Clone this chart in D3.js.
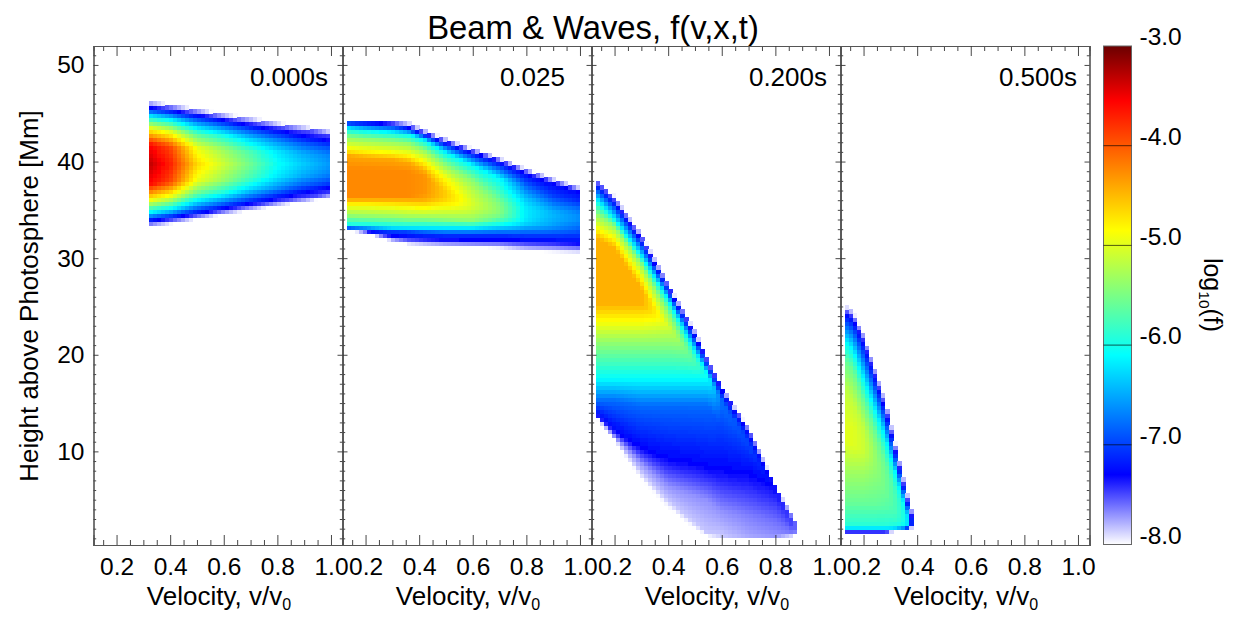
<!DOCTYPE html>
<html>
<head>
<meta charset="utf-8">
<script src="https://cdn.jsdelivr.net/npm/d3@7/dist/d3.min.js"></script>
<style>
html,body{margin:0;padding:0;background:#fff}
svg{display:block}
text{font-family:"Liberation Sans",Arial,sans-serif;fill:#000}
</style>
</head>
<body>
<svg id="chart" width="1246" height="623"></svg>
<script>
// ---------- values ----------
const chartTitle = "Beam & Waves, f(v,x,t)";
const panelLabels = ["0.000s", "0.025", "0.200s", "0.500s"];
const velocityTicks = [0.2, 0.4, 0.6, 0.8, 1.0];
const heightTicks = [10, 20, 30, 40, 50];
const colorTicks = [-3, -4, -5, -6, -7, -8];
const colorStops = [-8, -7.3, -6.1, -4.85, -3.55, -3];
const colorStopValues = ["#ffffff", "#0000ff", "#00ffff", "#ffff00", "#ff0000", "#6b0000"];

// Each panel: velocity columns; for each, the height (Mm) and log10 f of the colour bands met top to bottom.
const p1Velocity = [0.32, 0.4, 0.5, 0.6, 0.7, 0.8, 0.9, 1.0];
const p1Height = [
  [46.3,45.6,44.7,43.4,41.8,39.8,37.8,36.2,34.9,34.0,33.3],
  [46.0,45.3,44.5,43.2,41.6,39.8,38.0,36.4,35.1,34.3,33.6],
  [45.5,44.9,44.1,42.9,41.5,39.8,38.1,36.7,35.5,34.7,34.1],
  [45.0,44.5,43.8,42.7,41.4,39.8,38.2,36.9,35.8,35.1,34.6],
  [44.6,44.05,43.4,42.4,41.2,39.8,38.4,37.2,36.2,35.55,35.0],
  [44.1,43.65,43.1,42.2,41.1,39.8,38.5,37.4,36.5,35.95,35.5],
  [43.7,43.25,42.75,41.9,40.95,39.8,38.65,37.7,36.85,36.35,35.9],
  [43.2,42.85,42.4,41.7,40.8,39.8,38.8,37.9,37.2,36.75,36.4]
];
const p1LogF = [
  [-8,-7.2,-6.05,-4.8,-3.55,-3.3,-3.55,-4.8,-6.05,-7.2,-8],
  [-8,-7.2,-6.2,-5.0,-3.9,-3.7,-3.9,-5.0,-6.2,-7.2,-8],
  [-8,-7.3,-6.6,-5.65,-4.95,-4.65,-4.95,-5.65,-6.6,-7.3,-8],
  [-8,-7.4,-6.8,-5.95,-5.35,-5.1,-5.35,-5.95,-6.8,-7.4,-8],
  [-8,-7.45,-6.95,-6.3,-5.75,-5.55,-5.75,-6.3,-6.95,-7.45,-8],
  [-8,-7.5,-7.15,-6.6,-6.2,-6.05,-6.2,-6.6,-7.15,-7.5,-8],
  [-8,-7.5,-7.3,-6.85,-6.5,-6.35,-6.5,-6.85,-7.3,-7.5,-8],
  [-8,-7.5,-7.4,-7.0,-6.7,-6.6,-6.7,-7.0,-7.4,-7.5,-8]
];

const p2Velocity = [0.13, 0.2, 0.3, 0.36, 0.42, 0.5, 0.6, 0.7, 0.8, 0.9, 1.0];
const p2Height = [
  [44.3,44.2,43.5,42.6,41.4,40.7,39.3,36.5,36.2,35.6,34.5,33.4,33.2,33.1,32.9],
  [44.3,44.1,43.3,42.4,41.2,40.5,39.3,36.5,36.2,35.6,34.4,33.4,33.1,32.9,32.7],
  [44.3,43.9,43.1,42.2,41.0,40.3,39.2,36.5,36.2,35.5,34.3,33.3,32.9,32.4,31.8],
  [44.1,43.6,42.9,42.0,40.8,40.0,39.0,36.5,36.2,35.4,34.2,33.3,32.8,32.2,31.5],
  [43.3,42.9,42.3,41.3,40.1,39.2,38.6,36.7,36.1,35.3,34.2,33.3,32.7,32.1,31.4],
  [42.4,42.0,41.0,39.7,38.3,37.3,36.9,36.5,36.1,35.5,34.1,33.3,32.6,32.0,31.3],
  [41.4,41.0,39.7,38.1,37.1,36.3,36.0,35.6,35.2,34.7,34.0,33.3,32.6,32.0,31.2],
  [40.4,40.0,38.3,36.5,36.0,35.6,35.2,34.9,34.7,34.4,34.1,33.5,32.6,32.0,31.1],
  [39.3,38.8,37.6,36.3,35.6,35.2,34.9,34.7,34.4,34.1,33.7,33.3,32.5,31.9,30.8],
  [38.3,37.8,36.5,35.5,35.0,34.7,34.4,34.2,33.9,33.5,33.1,32.8,32.4,31.8,30.7],
  [37.4,36.9,36.0,35.2,34.8,34.5,34.2,34.0,33.7,33.3,32.9,32.6,32.2,31.6,30.6]
];
const p2LogF = [
  [-8,-7.3,-6.1,-5.4,-4.85,-4.4,-4.25,-4.25,-4.4,-4.85,-5.4,-6.1,-7,-7.3,-8],
  [-8,-7.3,-6.1,-5.4,-4.85,-4.4,-4.25,-4.25,-4.4,-4.85,-5.4,-6.1,-7,-7.3,-8],
  [-8,-7.3,-6.1,-5.4,-4.85,-4.4,-4.25,-4.25,-4.4,-4.85,-5.4,-6.1,-7,-7.3,-8],
  [-8,-7.3,-6.1,-5.4,-4.85,-4.4,-4.25,-4.25,-4.4,-4.85,-5.4,-6.1,-7,-7.3,-8],
  [-8,-7.3,-6.1,-5.4,-4.85,-4.45,-4.3,-4.3,-4.45,-4.85,-5.4,-6.1,-7,-7.3,-8],
  [-8,-7.3,-6.1,-5.4,-4.85,-4.65,-4.6,-4.6,-4.65,-4.85,-5.4,-6.1,-7,-7.3,-8],
  [-8,-7.3,-6.1,-5.4,-5.2,-5.1,-5.05,-5.05,-5.1,-5.2,-5.4,-6.1,-7,-7.3,-8],
  [-8,-7.3,-6.1,-5.7,-5.55,-5.47,-5.45,-5.45,-5.47,-5.55,-5.7,-6.1,-7,-7.3,-8],
  [-8,-7.3,-6.85,-6.4,-6.25,-6.2,-6.2,-6.2,-6.2,-6.22,-6.3,-6.5,-7,-7.3,-8],
  [-8,-7.3,-7,-6.65,-6.5,-6.45,-6.45,-6.45,-6.5,-6.55,-6.7,-6.85,-7.05,-7.3,-8],
  [-8,-7.3,-7.1,-6.8,-6.7,-6.65,-6.65,-6.65,-6.7,-6.8,-6.9,-7,-7.15,-7.3,-8]
];

const p3Velocity = [0.13, 0.2, 0.3, 0.4, 0.5, 0.55, 0.6, 0.7, 0.8, 0.87, 0.89];
const p3Height = [
  [38.3,37.8,36.2,34.7,33.2,32.2,25.4,23.6,21.3,17.6,15.3,14.0,13.8,13.7,13.6],
  [36.5,35.9,34.1,33.4,32.1,31.1,25.4,23.6,21.3,17.6,15.3,12.2,11.6,11.4,11.2],
  [32.5,31.9,30.3,29.5,28.1,26.9,25.4,23.6,21.3,17.6,14.8,10.4,8.9,7.9,7.2],
  [27.3,26.9,25.8,24.5,23.1,23.1,23.1,23.1,21.3,17.6,14.8,9.3,6.5,5.0,4.3],
  [22.5,22.0,20.5,19.7,19.6,19.5,19.4,19.3,19.2,17.6,14.8,8.8,5.5,2.7,2.1],
  [19.4,19.0,18.0,17.9,17.85,17.8,17.75,17.7,17.65,17.6,14.8,8.4,5.0,1.5,1.3],
  [16.7,16.4,15.5,15.4,15.3,15.2,15.1,15.0,14.9,14.8,12.4,8.2,3.9,1.35,1.15],
  [12.4,12.0,11.0,10.9,10.8,10.7,10.6,10.5,10.4,10.3,10.2,7.8,3.4,1.35,1.15],
  [6.5,6.2,5.95,5.9,5.85,5.8,5.75,5.7,5.65,5.6,5.5,5.4,3.0,1.35,1.15],
  [3.0,2.7,2.45,2.4,2.35,2.3,2.25,2.2,2.15,2.1,2.05,2.0,1.7,1.5,1.3],
  [2.3,2.27,2.24,2.21,2.18,2.15,2.12,2.09,2.06,2.03,2.0,1.97,1.94,1.91,1.9]
];
const p3LogF = [
  [-8,-7.3,-6.1,-5.4,-4.85,-4.45,-4.45,-4.85,-5.4,-6.1,-6.8,-7.3,-7.7,-7.85,-8],
  [-8,-7.3,-6.1,-5.4,-4.85,-4.45,-4.45,-4.85,-5.4,-6.1,-6.8,-7.3,-7.7,-7.85,-8],
  [-8,-7.3,-6.1,-5.4,-4.85,-4.45,-4.45,-4.85,-5.4,-6.1,-6.8,-7.3,-7.7,-7.85,-8],
  [-8,-7.3,-6.1,-5.4,-5.05,-5.05,-5.05,-5.05,-5.4,-6.1,-6.8,-7.3,-7.7,-7.85,-8],
  [-8,-7.3,-6.1,-5.75,-5.75,-5.75,-5.75,-5.75,-5.75,-6.1,-6.8,-7.3,-7.7,-7.85,-8],
  [-8,-7.3,-6.15,-6.1,-6.1,-6.1,-6.1,-6.1,-6.1,-6.1,-6.8,-7.3,-7.7,-7.85,-8],
  [-8,-7.3,-6.8,-6.8,-6.8,-6.8,-6.8,-6.8,-6.8,-6.8,-7,-7.3,-7.7,-7.85,-8],
  [-8,-7.3,-7,-7,-7,-7,-7,-7,-7,-7.02,-7.05,-7.3,-7.65,-7.75,-8],
  [-8,-7.35,-7.35,-7.35,-7.35,-7.35,-7.35,-7.35,-7.35,-7.36,-7.38,-7.4,-7.6,-7.7,-8],
  [-8,-7.5,-7.5,-7.5,-7.5,-7.5,-7.5,-7.5,-7.5,-7.5,-7.5,-7.5,-7.6,-7.65,-8],
  [-8,-8,-8,-8,-8,-8,-8,-8,-8,-8,-8,-8,-8,-8,-8]
];

const p4Velocity = [0.13, 0.16, 0.2, 0.24, 0.28, 0.32, 0.36, 0.39];
const p4Height = [
  [25.2,24.4,21.5,19.5,16.4,12.7,11.2,8.1,4.7,2.5,2.2,1.85,1.65,1.5],
  [24.6,23.8,20.5,18.7,15.3,12.7,10.7,8.1,4.7,2.5,2.2,1.85,1.65,1.5],
  [22.3,21.3,17.5,15.4,12.5,11.2,10.1,8.1,4.7,2.5,2.2,1.85,1.65,1.5],
  [18.9,18.0,14.5,12.5,11.2,10.1,9.1,7.9,4.7,2.5,2.2,1.85,1.65,1.5],
  [15.5,14.4,11.5,9.1,8.1,7.0,6.0,5.3,4.5,2.5,2.2,1.85,1.65,1.5],
  [10.6,9.7,7.7,6.0,5.2,4.5,3.9,3.4,2.9,2.5,2.2,2.1,2.0,1.9],
  [5.9,5.1,3.7,3.3,3.0,2.9,2.8,2.7,2.6,2.5,2.2,2.1,2.0,1.9],
  [3.0,2.8,2.75,2.7,2.65,2.6,2.58,2.55,2.52,2.5,2.45,2.4,2.35,2.3]
];
const p4LogF = [
  [-8,-7.3,-6.1,-5.6,-5.15,-5,-5,-5.3,-5.6,-5.9,-6.1,-7.3,-7.6,-8],
  [-8,-7.3,-6.1,-5.6,-5.15,-5,-5,-5.3,-5.6,-5.9,-6.1,-7.3,-7.6,-8],
  [-8,-7.3,-6.1,-5.6,-5.15,-5.1,-5.1,-5.3,-5.6,-5.9,-6.1,-7.3,-7.6,-8],
  [-8,-7.3,-6.1,-5.6,-5.45,-5.35,-5.35,-5.4,-5.6,-5.9,-6.1,-7.3,-7.6,-8],
  [-8,-7.3,-6.1,-5.6,-5.55,-5.55,-5.55,-5.6,-5.65,-5.9,-6.1,-7.3,-7.6,-8],
  [-8,-7.3,-6.1,-5.8,-5.75,-5.75,-5.75,-5.8,-5.85,-5.95,-6.1,-6.8,-7.6,-8],
  [-8,-7.3,-6.1,-6.05,-6.05,-6.05,-6.05,-6.05,-6.05,-6.1,-6.5,-7.3,-7.6,-8],
  [-8,-7.9,-7.9,-7.9,-7.9,-7.9,-7.9,-7.9,-7.9,-7.9,-7.9,-7.9,-7.9,-8]
];

const panelVelocities = [p1Velocity, p2Velocity, p3Velocity, p4Velocity];
const panelHeights = [p1Height, p2Height, p3Height, p4Height];
const panelLogF = [p1LogF, p2LogF, p3LogF, p4LogF];

// ---------- layout ----------
const panelLeft = [93.5, 342.5, 591.5, 840.5], panelWidth = 249;
const panelLabelRight = [328, 565, 827, 1077];
const plotTop = 46, plotBottom = 545;
const cellV = 0.015, cellH = 0.414;
const velocityDomain = [0.114, 1.043], heightDomain = [0.31, 51.96];

const color = d3.scaleLinear().domain(colorStops).range(colorStopValues).clamp(true);
const yScale = d3.scaleLinear().domain(heightDomain).range([plotBottom, plotTop]);
const svg = d3.select("#chart");

const defs = svg.append("defs");
defs.append("filter").attr("id", "soft").attr("filterUnits", "userSpaceOnUse")
  .attr("x", 0).attr("y", 0).attr("width", 1246).attr("height", 623)
  .append("feGaussianBlur").attr("stdDeviation", 0.55);

// look up log f at one raster cell from the knots
function sample(vs, hs, fs, v, h) {
  if (v < vs[0] || v > vs[vs.length - 1]) return null;
  let i = d3.bisectRight(vs, v) - 1;
  if (i >= vs.length - 1) i = vs.length - 2;
  const t = (v - vs[i]) / (vs[i + 1] - vs[i]);
  const n = hs[i].length;
  const hk = d3.range(n).map(k => hs[i][k] + t * (hs[i + 1][k] - hs[i][k]));
  const fk = d3.range(n).map(k => fs[i][k] + t * (fs[i + 1][k] - fs[i][k]));
  if (h > hk[0] || h < hk[n - 1]) return null;
  for (let k = 0; k < n - 1; k++) {
    if (h <= hk[k] && h >= hk[k + 1]) {
      const d = hk[k] - hk[k + 1];
      return d <= 0 ? fk[k] : fk[k] + (hk[k] - h) / d * (fk[k + 1] - fk[k]);
    }
  }
  return null;
}

const rasterLayer = svg.append("g").attr("filter", "url(#soft)");

panelLabels.forEach((label, p) => {
  const x = d3.scaleLinear().domain(velocityDomain).range([panelLeft[p], panelLeft[p] + panelWidth]);
  const vs = panelVelocities[p], hs = panelHeights[p], fs = panelLogF[p];
  const cells = [];
  const nv = Math.floor((vs[vs.length - 1] - vs[0]) / cellV);
  const nh = Math.ceil((heightDomain[1] - heightDomain[0]) / cellH);
  for (let i = 0; i < nv; i++) {
    const v = vs[0] + i * cellV;
    for (let j = 0; j < nh; j++) {
      const h = heightDomain[0] + j * cellH;
      const f = sample(vs, hs, fs, v + cellV / 2, h + cellH / 2);
      if (f !== null) cells.push({ v, h, f });
    }
  }
  rasterLayer.append("g").selectAll("rect").data(cells).join("rect")
    .attr("shape-rendering", "crispEdges")
    .attr("x", d => x(d.v))
    .attr("y", d => yScale(d.h + cellH))
    .attr("width", x(velocityDomain[0] + cellV) - x(velocityDomain[0]) + 0.5)
    .attr("height", yScale(heightDomain[0]) - yScale(heightDomain[0] + cellH) + 0.5)
    .attr("fill", d => color(d.f));

  const g = svg.append("g").attr("class", "frame");
  const minorV = d3.range(0.15, 1.03, 0.05).filter(t => Math.abs(t * 5 - Math.round(t * 5)) > 1e-6);
  const minorH = d3.range(1, 52, 1).filter(t => t % 10 !== 0);
  const bottom = `translate(0,${plotBottom})`, top = `translate(0,${plotTop})`;
  const left = `translate(${panelLeft[p]},0)`, right = `translate(${panelLeft[p] + panelWidth},0)`;
  const add = (axis, tr) => g.append("g").attr("transform", tr).call(axis);
  add(d3.axisBottom(x).tickValues(minorV).tickSize(-5).tickFormat(""), bottom);
  const bx = add(d3.axisBottom(x).tickValues(velocityTicks).tickSize(-10).tickPadding(13).tickFormat(d3.format(".1f")), bottom);
  bx.selectAll("text").attr("font-size", 24.5).attr("dy", "0.71em");
  add(d3.axisTop(x).tickValues(minorV).tickSize(-5).tickFormat(""), top);
  add(d3.axisTop(x).tickValues(velocityTicks).tickSize(-10).tickFormat(""), top);
  add(d3.axisLeft(yScale).tickValues(minorH).tickSize(-2.7).tickFormat(""), left);
  const ly = add(d3.axisLeft(yScale).tickValues(heightTicks).tickSize(-5).tickPadding(9)
    .tickFormat(p === 0 ? d3.format("d") : ""), left);
  ly.selectAll("text").attr("font-size", 24.5);
  add(d3.axisRight(yScale).tickValues(minorH).tickSize(-2.7).tickFormat(""), right);
  add(d3.axisRight(yScale).tickValues(heightTicks).tickSize(-5).tickFormat(""), right);
  g.selectAll("path.domain").attr("stroke", "#555").attr("stroke-width", 1.1);
  g.selectAll(".tick line").attr("stroke", "#333").attr("stroke-width", 0.9);

  svg.append("text").attr("x", panelLabelRight[p]).attr("y", 86)
    .attr("text-anchor", "end").attr("font-size", 26).text(label);

  const xt = svg.append("text").attr("x", panelLeft[p] + 125.5).attr("y", 605)
    .attr("text-anchor", "middle").attr("font-size", 26).text("Velocity, v/v");
  xt.append("tspan").attr("font-size", 16).attr("dy", 5).text("0");
});

// title and left label
svg.append("text").attr("x", 593).attr("y", 39).attr("text-anchor", "middle")
  .attr("font-size", 32.8).text(chartTitle);
svg.append("text").attr("transform", "translate(38,296) rotate(-90)").attr("text-anchor", "middle")
  .attr("font-size", 25.9).text("Height above Photosphere [Mm]");

// colour bar
const barX = 1103.5, barW = 28;
const barScale = d3.scaleLinear().domain([-8, -3]).range([plotBottom - 0.5, plotTop]);
const grad = defs.append("linearGradient").attr("id", "bar").attr("x1", 0).attr("x2", 0).attr("y1", 1).attr("y2", 0);
grad.selectAll("stop").data(colorStops).join("stop")
  .attr("offset", d => (d + 8) / 5).attr("stop-color", d => color(d));
svg.append("rect").attr("x", barX).attr("y", plotTop).attr("width", barW)
  .attr("height", plotBottom - 0.5 - plotTop).attr("fill", "url(#bar)").attr("stroke", "#666").attr("stroke-width", 1);
const barAxis = svg.append("g").attr("transform", `translate(${barX + barW},0)`)
  .call(d3.axisRight(barScale).tickValues(colorTicks).tickSize(0).tickPadding(8).tickFormat(d3.format(".1f")));
barAxis.select("path.domain").remove();
barAxis.selectAll("text").attr("font-size", 24.5).attr("dy", "-0.05em")
  .text(d => d.toFixed(1));
svg.append("g").selectAll("line").data(colorTicks.slice(1, 5)).join("line")
  .attr("x1", barX).attr("x2", barX + barW)
  .attr("y1", d => barScale(d)).attr("y2", d => barScale(d))
  .attr("stroke", "#000").attr("stroke-opacity", 0.65).attr("stroke-width", 1);

const cb = svg.append("text").attr("transform", "translate(1204,295) rotate(90)")
  .attr("text-anchor", "middle").attr("font-size", 25).text("log");
cb.append("tspan").attr("font-size", 15.5).attr("dy", 5).text("10");
cb.append("tspan").attr("dy", -5).text("(f)");
</script>
</body>
</html>
